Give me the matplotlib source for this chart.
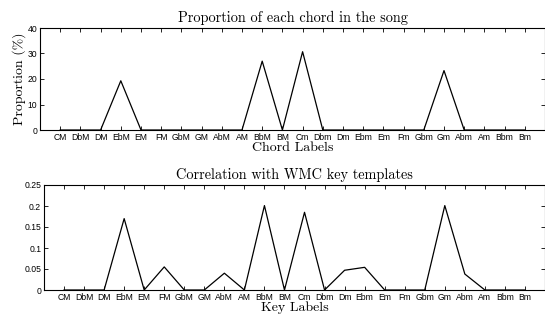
import matplotlib.pyplot as plt
import numpy as np

labels = ['CM', 'DbM', 'DM', 'EbM', 'EM', 'FM', 'GbM', 'GM', 'AbM', 'AM', 'BbM', 'BM',
          'Cm', 'Dbm', 'Dm', 'Ebm', 'Em', 'Fm', 'Gbm', 'Gm', 'Abm', 'Am', 'Bbm', 'Bm']

# proportion of each chord (%)
chord_prop = [0, 0, 0, 19.3, 0, 0, 0, 0, 0, 0, 27.0, 0,
              30.7, 0, 0, 0, 0, 0, 0, 23.3, 0, 0, 0, 0]

# correlation with WMC key templates
key_corr = [0, 0, 0, 0.170, 0, 0.055, 0, 0, 0.040, 0, 0.201, 0,
            0.185, 0, 0.047, 0.054, 0, 0, 0, 0.201, 0.038, 0, 0, 0]

serif = 'cmr10'
tickfont = 'Liberation Sans'

fig = plt.figure(figsize=(5.45, 3.14), dpi=100)
ax1 = fig.add_axes([40/545, 1-130/314, 1-40/545, 102/314])
ax2 = fig.add_axes([44/545, 1-290/314, 1-44/545, 105/314])

x = np.arange(1, len(labels)+1)

def style(ax):
    ax.set_xlim(0, 25)
    ax.set_xticks(x)
    ax.set_xticklabels(labels, fontsize=6.2, family=tickfont)
    ax.tick_params(direction='in', length=3, width=0.6, top=True, right=True, pad=2)
    for lab in ax.get_yticklabels():
        lab.set_family(tickfont)
        lab.set_fontsize(6.2)
    for s in ax.spines.values():
        s.set_linewidth(0.8)

ax1.plot(x, chord_prop, color='k', lw=0.9)
ax1.set_ylim(0, 40)
ax1.set_yticks([0, 10, 20, 30, 40])
style(ax1)
ax1.set_title('Proportion of each chord in the song', fontsize=10.3, family=serif, pad=4)
ax1.set_ylabel('Proportion (%)', fontsize=10, family=serif, labelpad=1)
ax1.set_xlabel('Chord Labels', fontsize=10, family=serif, labelpad=0)

ax2.plot(x, key_corr, color='k', lw=0.9)
ax2.set_ylim(0, 0.25)
ax2.set_yticks([0, 0.05, 0.1, 0.15, 0.2, 0.25])
ax2.set_yticklabels(['0', '0.05', '0.1', '0.15', '0.2', '0.25'])
style(ax2)
ax2.set_title('Correlation with WMC key templates', fontsize=10.3, family=serif, pad=4)
ax2.set_xlabel('Key Labels', fontsize=10, family=serif, labelpad=0)

fig.savefig('out.png', dpi=100)
